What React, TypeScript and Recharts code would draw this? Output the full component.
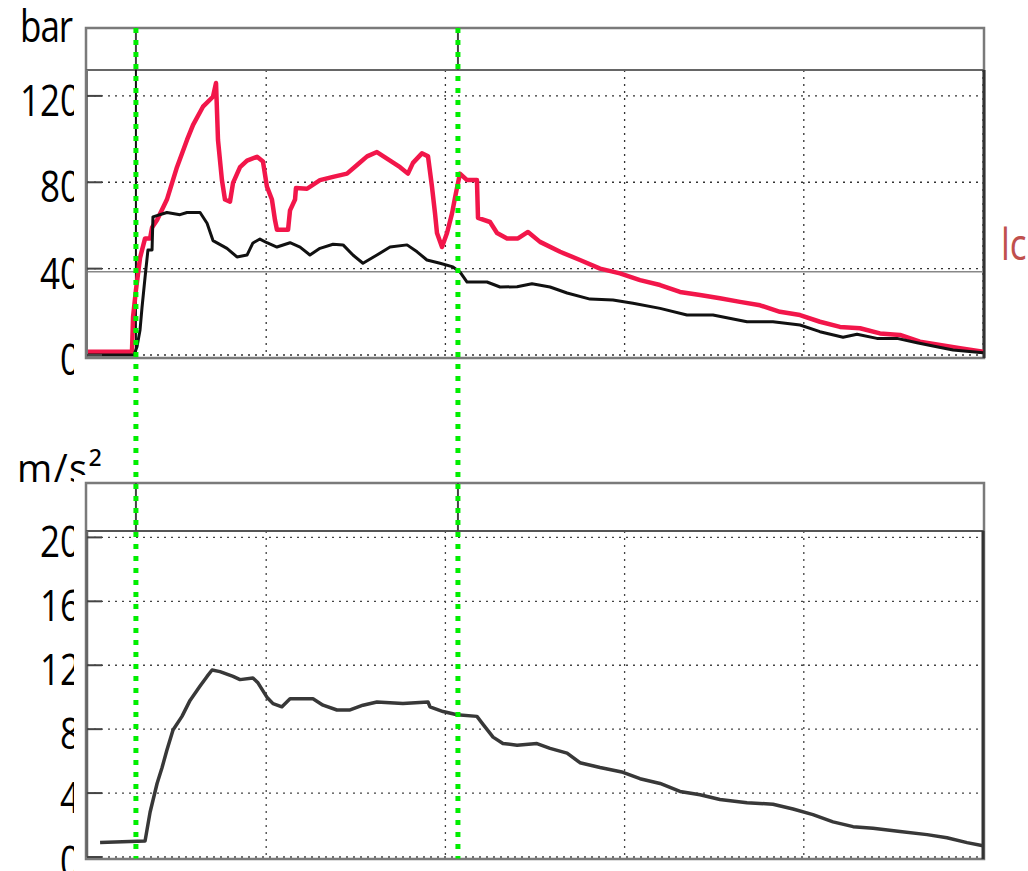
import { LineChart, Line, XAxis, YAxis, CartesianGrid, ReferenceLine } from "recharts";

// time axis in grid divisions (0..5)
const redTime = [0, 0.251, 0.257, 0.273, 0.296, 0.324, 0.352, 0.363, 0.391, 0.446, 0.502, 0.558, 0.592, 0.647, 0.703, 0.72, 0.731, 0.753, 0.77, 0.798, 0.815, 0.854, 0.893, 0.949, 0.982, 1.004, 1.032, 1.049, 1.06, 1.122, 1.133, 1.161, 1.166, 1.228, 1.3, 1.373, 1.451, 1.507, 1.563, 1.618, 1.674, 1.747, 1.791, 1.819, 1.869, 1.903, 1.925, 1.942, 1.953, 1.981, 2.009, 2.037, 2.054, 2.081, 2.121, 2.176, 2.182, 2.249, 2.288, 2.344, 2.405, 2.461, 2.528, 2.64, 2.751, 2.863, 2.974, 3.086, 3.198, 3.309, 3.421, 3.532, 3.644, 3.756, 3.867, 3.979, 4.09, 4.202, 4.314, 4.425, 4.537, 4.648, 4.76, 4.872, 5];
const redBar = [1.5, 1.5, 17.6, 30, 45, 54, 54, 59, 62.5, 72, 87, 99.6, 106.6, 115, 119.6, 126, 99.6, 81, 72, 71, 79.7, 87, 90, 91.8, 89.6, 78, 72, 62.5, 58, 58, 67, 72, 77.3, 77, 81, 82.5, 84, 88, 92, 94, 91, 87, 84, 89, 93.4, 92, 78, 65.6, 56.5, 50, 56.5, 65.6, 73, 84, 81, 81, 63.5, 61.6, 56.5, 54, 54, 57, 52.4, 47.8, 44, 40, 37.8, 34.7, 32.4, 29.2, 27.8, 26.3, 24.6, 23, 20, 18.5, 15.4, 13, 12.4, 10, 9.3, 6.2, 4.6, 3.1, 1.5];

const blackTime = [0, 0.262, 0.279, 0.296, 0.307, 0.324, 0.34, 0.363, 0.368, 0.446, 0.519, 0.558, 0.631, 0.67, 0.703, 0.781, 0.837, 0.893, 0.926, 0.965, 1.004, 1.06, 1.133, 1.189, 1.244, 1.3, 1.373, 1.429, 1.484, 1.54, 1.618, 1.691, 1.786, 1.842, 1.897, 1.97, 2.042, 2.081, 2.121, 2.232, 2.305, 2.4, 2.483, 2.584, 2.679, 2.807, 2.935, 3.047, 3.198, 3.348, 3.493, 3.683, 3.828, 3.979, 4.09, 4.219, 4.297, 4.408, 4.52, 4.632, 4.721, 4.833, 5];
const blackBar = [0, 0, 3.8, 11.6, 22, 36, 48.6, 48.6, 64, 66, 65, 66, 66, 61, 53, 49.4, 45.4, 46.3, 51.9, 53.7, 52, 50, 52, 50, 46.3, 49.4, 51.3, 51, 46.3, 42.5, 46.3, 50, 51, 47.8, 44, 42.5, 40.8, 38.5, 33.8, 33.8, 31.5, 31.6, 33, 31.5, 28.7, 25.9, 25.5, 24, 21.6, 18.5, 18.5, 15.4, 15.4, 13.9, 10.8, 8.2, 9.6, 7.7, 7.7, 5.7, 4.2, 2.3, 1];

const accTime = [0.073, 0.324, 0.352, 0.391, 0.419, 0.446, 0.48, 0.53, 0.575, 0.631, 0.67, 0.698, 0.742, 0.815, 0.854, 0.926, 0.954, 1.004, 1.038, 1.088, 1.133, 1.261, 1.317, 1.395, 1.468, 1.54, 1.618, 1.763, 1.903, 1.914, 1.987, 2.065, 2.176, 2.21, 2.266, 2.321, 2.4, 2.511, 2.584, 2.679, 2.751, 2.863, 2.991, 3.086, 3.198, 3.309, 3.421, 3.532, 3.683, 3.828, 3.94, 4.051, 4.163, 4.275, 4.386, 4.537, 4.688, 4.799, 4.911, 5];
const accMs2 = [0.9, 1.0, 2.8, 4.6, 5.6, 6.7, 7.95, 8.8, 9.8, 10.7, 11.3, 11.7, 11.6, 11.3, 11.1, 11.2, 10.9, 10.0, 9.6, 9.4, 9.9, 9.9, 9.5, 9.2, 9.2, 9.5, 9.7, 9.6, 9.7, 9.4, 9.1, 8.9, 8.8, 8.3, 7.5, 7.1, 7.0, 7.1, 6.8, 6.5, 5.9, 5.6, 5.3, 4.9, 4.6, 4.1, 3.9, 3.6, 3.4, 3.3, 3.0, 2.65, 2.2, 1.9, 1.8, 1.6, 1.4, 1.2, 0.9, 0.7];

const cursorTimes = [0.273, 2.07];
const timeTicks = [0, 1, 2, 3, 4, 5];
const barTicks = [0, 40, 80, 120];
const accTicks = [0, 4, 8, 12, 16, 20];
const limitBar = 38.6;

const redData = redTime.map((t, i) => ({ t, v: redBar[i] }));
const blackData = blackTime.map((t, i) => ({ t, v: blackBar[i] }));
const accData = accTime.map((t, i) => ({ t, v: accMs2[i] }));

const W = 1028;
const H = 871;
const FONT = "Open Sans";

const makeYTick = (clip: string) => (props: any) => {
  const { y, payload } = props;
  return (
    <g>
      <line x1={87} x2={102} y1={y} y2={y} stroke="#444" strokeWidth={2} />
      <g clipPath={`url(#${clip})`}>
        <text
          transform={`translate(80, ${y + 20}) scale(1, 1.24)`}
          textAnchor="end"
          fontFamily={FONT}
          fontSize={35}
          fill="#000"
        >
          {payload.value}
        </text>
      </g>
    </g>
  );
};

const bottomXTick = (props: any) => {
  const { x, payload } = props;
  if (payload.value === 0 || payload.value === 5) return <g />;
  return <line x1={x} x2={x} y1={857} y2={844} stroke="#444" strokeWidth={2} />;
};

const noTick = () => <g />;

export default function App() {
  return (
    <div style={{ position: "absolute", left: 0, top: 0, width: W, height: H, background: "#fff" }}>
      {/* pressure panel */}
      <div style={{ position: "absolute", left: 0, top: 0 }}>
        <LineChart width={W} height={H} margin={{ top: 70, right: 45, bottom: 516, left: 0 }}>
          <defs>
            <clipPath id="clipTop">
              <rect x={0} y={0} width={74} height={H} />
            </clipPath>
          </defs>
          <rect x={86} y={28} width={898} height={330} fill="none" stroke="#7a7a7a" strokeWidth={2.5} />
          <line x1={86} x2={984} y1={70} y2={70} stroke="#666" strokeWidth={2} />
          <line x1={984} x2={984} y1={70} y2={358} stroke="#333" strokeWidth={3} />
          <CartesianGrid stroke="#333" strokeDasharray="2 5" strokeWidth={1.3} />
          <XAxis
            type="number"
            dataKey="t"
            domain={[0, 5]}
            ticks={timeTicks}
            height={0}
            tickLine={false}
            tick={noTick}
            axisLine={{ stroke: "#888", strokeWidth: 2 }}
          />
          <YAxis
            type="number"
            domain={[0, 132]}
            ticks={barTicks}
            width={87}
            interval={0}
            tickLine={false}
            tick={makeYTick("clipTop")}
            axisLine={{ stroke: "#777", strokeWidth: 2 }}
          />
          <ReferenceLine y={limitBar} stroke="#888" strokeWidth={1.5} />
          <ReferenceLine x={cursorTimes[0]} stroke="#111" strokeWidth={2} />
          {cursorTimes.map((c) => (
            <ReferenceLine
              key={c}
              segment={[{ x: c, y: 132 }, { x: c, y: 151.5 }]}
              ifOverflow="visible"
              stroke="#444"
              strokeWidth={2}
            />
          ))}
          <Line data={redData} dataKey="v" stroke="#f2164a" strokeWidth={4.5} dot={false} isAnimationActive={false} strokeLinejoin="round" />
          <Line data={blackData} dataKey="v" stroke="#111" strokeWidth={3} dot={false} isAnimationActive={false} strokeLinejoin="round" />
          <g clipPath="url(#clipTop)">
            <text transform="translate(20, 42) scale(1, 1.24)" fontFamily={FONT} fontSize={35} letterSpacing={-1} fill="#000">bar</text>
          </g>
          <text transform="translate(1001, 260) scale(1, 1.24)" fontFamily={FONT} fontSize={35} fill="#c0504d">lc</text>
        </LineChart>
      </div>

      {/* acceleration panel, drawn last so the cursor lines sit on top */}
      <div style={{ position: "absolute", left: 0, top: 0 }}>
        <LineChart width={W} height={H} margin={{ top: 531, right: 45, bottom: 14, left: 0 }}>
          <defs>
            <clipPath id="clipBottom">
              <rect x={0} y={0} width={74} height={H} />
              <rect x={0} y={0} width={W} height={475} />
            </clipPath>
          </defs>
          <rect x={86} y={483} width={898} height={376} fill="none" stroke="#7a7a7a" strokeWidth={2.5} />
          <line x1={86} x2={984} y1={531} y2={531} stroke="#555" strokeWidth={2} />
          <line x1={983} x2={983} y1={531} y2={859} stroke="#333" strokeWidth={3} />
          <CartesianGrid stroke="#444" strokeDasharray="2 5" strokeWidth={1.3} />
          <XAxis
            type="number"
            dataKey="t"
            domain={[0, 5]}
            ticks={timeTicks}
            height={0}
            tickLine={false}
            tick={bottomXTick}
            axisLine={{ stroke: "#333", strokeWidth: 3 }}
          />
          <YAxis
            type="number"
            domain={[0, 20.4]}
            ticks={accTicks}
            width={87}
            interval={0}
            tickLine={false}
            tick={makeYTick("clipBottom")}
            axisLine={{ stroke: "#666", strokeWidth: 2.5 }}
          />
          {cursorTimes.map((c) => (
            <ReferenceLine
              key={c}
              segment={[{ x: c, y: 20.4 }, { x: c, y: 23.4 }]}
              ifOverflow="visible"
              stroke="#444"
              strokeWidth={2}
            />
          ))}
          <Line data={accData} dataKey="v" stroke="#383838" strokeWidth={3.5} dot={false} isAnimationActive={false} strokeLinejoin="round" />
          <g clipPath="url(#clipBottom)">
            <text x={17} y={482} fontFamily={FONT} fontSize={38} letterSpacing={1.5} fill="#000">m/s²</text>
          </g>
          {/* green cursors run from the top of the pressure panel to the bottom of this one */}
          {cursorTimes.map((c) => (
            <ReferenceLine
              key={`cur-${c}`}
              segment={[{ x: c, y: 51.88 }, { x: c, y: -0.1 }]}
              ifOverflow="visible"
              stroke="#00ee00"
              strokeWidth={5}
              strokeDasharray="5 7"
            />
          ))}
        </LineChart>
      </div>
    </div>
  );
}
